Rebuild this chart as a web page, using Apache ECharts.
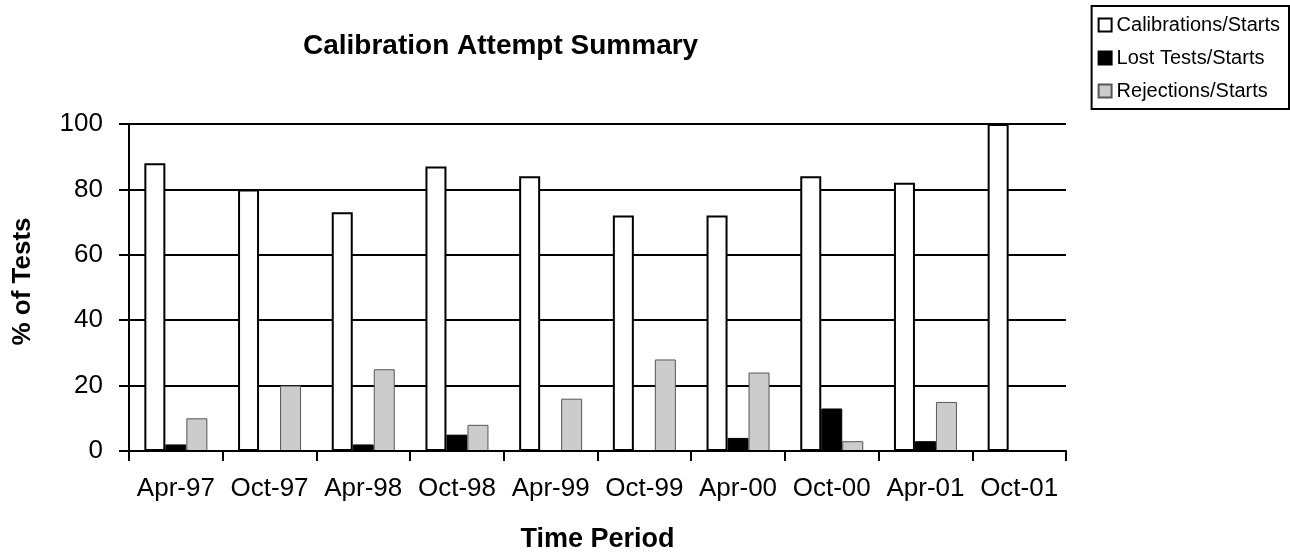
<!DOCTYPE html>
<html>
<head>
<meta charset="utf-8">
<script src="https://cdn.jsdelivr.net/npm/echarts@6/dist/echarts.min.js"></script>
<style>
html,body{margin:0;padding:0;background:#fff;}
#chart{width:1290px;height:554px;}
</style>
</head>
<body>
<div id="chart"></div>
<script>
const categories = ['Apr-97','Oct-97','Apr-98','Oct-98','Apr-99','Oct-99','Apr-00','Oct-00','Apr-01','Oct-01'];
const calibrations = [88, 80, 73, 87, 84, 72, 72, 84, 82, 100];
const lostTests = [2, 0, 2, 5, 0, 0, 4, 13, 3, 0];
const rejections = [10, 20, 25, 8, 16, 28, 24, 3, 15, 0];
const yTicks = [0, 20, 40, 60, 80, 100];

const FONT = "'Liberation Sans', Arial, sans-serif";
const chart = echarts.init(document.getElementById('chart'), null, {renderer:'canvas'});

chart.setOption({
  animation: false,
  backgroundColor: '#ffffff',
  title: {
    text: 'Calibration Attempt Summary',
    left: 303, top: 32, padding: 0,
    textStyle: {fontFamily: FONT, fontSize: 28, fontWeight: 'bold', color: '#000'}
  },
  legend: {
    orient: 'vertical', right: 1, top: 6,
    padding: [9, 9, 8, 6],
    borderColor: '#000', borderWidth: 2,
    itemWidth: 13, itemHeight: 13, itemGap: 13,
    icon: 'rect',
    textStyle: {fontFamily: FONT, fontSize: 20, color: '#000'},
    data: ['Calibrations/Starts', 'Lost Tests/Starts', 'Rejections/Starts']
  },
  grid: {left: 129, right: 224, top: 124, bottom: 103, containLabel: false, outerBoundsMode: 'none'},
  xAxis: {
    type: 'category', data: categories, boundaryGap: true, z: 3,
    name: 'Time Period', nameLocation: 'middle', nameGap: 75,
    nameTextStyle: {fontFamily: FONT, fontSize: 27, fontWeight: 'bold', color: '#000'},
    axisLine: {lineStyle: {color: '#000', width: 2}},
    axisTick: {show: true, length: 10, lineStyle: {color: '#000', width: 2}},
    axisLabel: {fontFamily: FONT, fontSize: 26, color: '#000', margin: 25, interval: 0},
    splitLine: {show: false}
  },
  yAxis: {
    type: 'value', min: yTicks[0], max: yTicks[yTicks.length-1], interval: 20,
    name: '% of Tests', nameLocation: 'middle', nameGap: 93,
    nameTextStyle: {fontFamily: FONT, fontSize: 26, fontWeight: 'bold', color: '#000', padding: [0,0,0,12]},
    axisLine: {show: true, lineStyle: {color: '#000', width: 2}},
    axisTick: {show: true, length: 10, lineStyle: {color: '#000', width: 2}},
    axisLabel: {fontFamily: FONT, fontSize: 26, color: '#000', margin: 26},
    splitLine: {show: true, lineStyle: {color: '#000', width: 2}}
  },
  series: [
    {
      name: 'Calibrations/Starts', type: 'bar', data: calibrations,
      barWidth: 21, barGap: '0%',
      itemStyle: {color: '#ffffff', borderColor: '#000', borderWidth: 2}
    },
    {
      name: 'Lost Tests/Starts', type: 'bar', data: lostTests,
      barWidth: 21, barGap: '0%',
      itemStyle: {color: '#000000', borderColor: '#000', borderWidth: 1}
    },
    {
      name: 'Rejections/Starts', type: 'bar', data: rejections,
      barWidth: 21, barGap: '0%',
      itemStyle: {color: '#cccccc', borderColor: '#555555', borderWidth: 1}
    }
  ]
});
</script>
</body>
</html>
